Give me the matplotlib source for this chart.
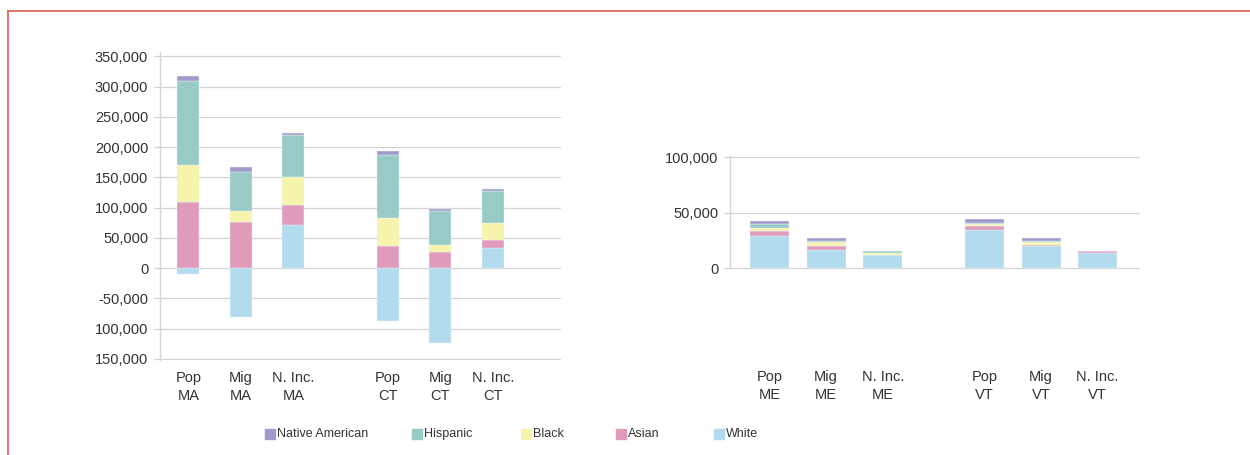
import numpy as np
import matplotlib.pyplot as plt
from matplotlib.patches import Rectangle
from matplotlib.lines import Line2D

plt.rcParams['font.family'] = ['Liberation Sans', 'DejaVu Sans']

# stacking order from the baseline up
races = ['White', 'Asian', 'Black', 'Hispanic', 'Native American']
legend_order = ['Native American', 'Hispanic', 'Black', 'Asian', 'White']
race_colors = {'Native American': '#9f9bcb', 'Hispanic': '#98cbc6', 'Black': '#f7f4ae',
               'Asian': '#e09bbb', 'White': '#b3dbee'}

# MA / CT panel
left_cats = ['Pop\nMA', 'Mig\nMA', 'N. Inc.\nMA', 'Pop\nCT', 'Mig\nCT', 'N. Inc.\nCT']
left_white = [-10500, -81500, 71500, -88000, -123000, 33000]
left_asian = [109000, 76000, 33000, 37000, 27000, 13700]
left_black = [61000, 19000, 45500, 46000, 11500, 28300]
left_hispanic = [139000, 63000, 70500, 104500, 55000, 53000]
left_native = [8000, 9000, 2500, 6000, 4500, 3000]
left_ticks = [350000, 300000, 250000, 200000, 150000, 100000, 50000, 0, -50000, -100000, -150000]
left_ticklabels = ['350,000', '300,000', '250,000', '200,000', '150,000', '100,000', '50,000',
                   '0', '-50,000', '100,000', '150,000']

# ME / VT panel
right_cats = ['Pop\nME', 'Mig\nME', 'N. Inc.\nME', 'Pop\nVT', 'Mig\nVT', 'N. Inc.\nVT']
right_white = [28900, 16300, 11800, 34400, 19900, 13600]
right_asian = [4600, 3900, 0, 3300, 1200, 1800]
right_black = [2700, 3600, 1800, 1800, 2400, 0]
right_hispanic = [3300, 600, 1800, 1500, 900, 0]
right_native = [3000, 3000, 0, 3000, 3000, 0]
right_ticks = [0, 50000, 100000]
right_ticklabels = ['0', '50,000', '100,000']

text_col = '#333333'
grid_col = '#d4d4d4'


def stacked(ax, x, series, width):
    pos = np.zeros(len(x))
    neg = np.zeros(len(x))
    for name in races:
        v = np.array(series[name], dtype=float)
        bottom = np.where(v >= 0, pos, neg)
        ax.bar(x, v, width, bottom=bottom, color=race_colors[name],
               edgecolor='#eef4f8', linewidth=0.3, zorder=3)
        pos += np.clip(v, 0, None)
        neg += np.clip(v, None, 0)


def style(ax, cats, x, ticks, labels):
    for s in ['top', 'right', 'bottom']:
        ax.spines[s].set_visible(False)
    ax.spines['left'].set_color(grid_col)
    ax.spines['left'].set_linewidth(1.0)
    ax.set_yticks(ticks)
    ax.set_yticklabels(labels)
    ax.grid(axis='y', color=grid_col, linewidth=0.9, zorder=0)
    ax.tick_params(axis='y', length=4.5, color=grid_col, width=0.9, pad=4,
                   labelsize=10.5, labelcolor=text_col)
    ax.set_xticks(x)
    ax.set_xticklabels(cats, linespacing=1.35)
    ax.tick_params(axis='x', length=0, pad=8, labelsize=10.5, labelcolor=text_col)


fig = plt.figure(figsize=(12.5, 4.55), dpi=100)

x = np.array([0, 1, 2, 3.8, 4.8, 5.8])

ax1 = fig.add_axes([0.128, 0.2080, 0.3208, 0.6777])
stacked(ax1, x, {'White': left_white, 'Asian': left_asian, 'Black': left_black,
                 'Hispanic': left_hispanic, 'Native American': left_native}, 0.42)
ax1.set_xlim(-0.54, 7.1)
ax1.set_ylim(-152500, 357000)
style(ax1, left_cats, x, left_ticks, left_ticklabels)

ax2 = fig.add_axes([0.584, 0.2103, 0.328, 0.4475])
stacked(ax2, x, {'White': right_white, 'Asian': right_asian, 'Black': right_black,
                 'Hispanic': right_hispanic, 'Native American': right_native}, 0.69)
ax2.set_xlim(-0.70, 6.55)
ax2.set_ylim(-82300, 101500)
style(ax2, right_cats, x, right_ticks, right_ticklabels)
ax2.spines['left'].set_bounds(0, 101500)

# legend, laid out by hand to match the uneven spacing
leg_x = [265, 411.7, 521, 615.7, 714.3]
for name, lx in zip(legend_order, leg_x):
    fig.add_artist(Rectangle((lx / 1250, 1 - 439 / 455), 10 / 1250, 10 / 455,
                             transform=fig.transFigure, color=race_colors[name]))
    fig.text((lx + 12) / 1250, 1 - 434 / 455, name, fontsize=9, color=text_col,
             va='center', ha='left')

# red frame (right and bottom edges run off the picture)
frame_col = '#d9543c'
fig.add_artist(Line2D([7.5 / 1250, 7.5 / 1250], [0, 1 - 11 / 455], transform=fig.transFigure,
                      color=frame_col, lw=1.1))
fig.add_artist(Line2D([7.5 / 1250, 1], [1 - 11 / 455, 1 - 11 / 455], transform=fig.transFigure,
                      color=frame_col, lw=1.1))

fig.savefig('out.png', dpi=100, facecolor='white')
